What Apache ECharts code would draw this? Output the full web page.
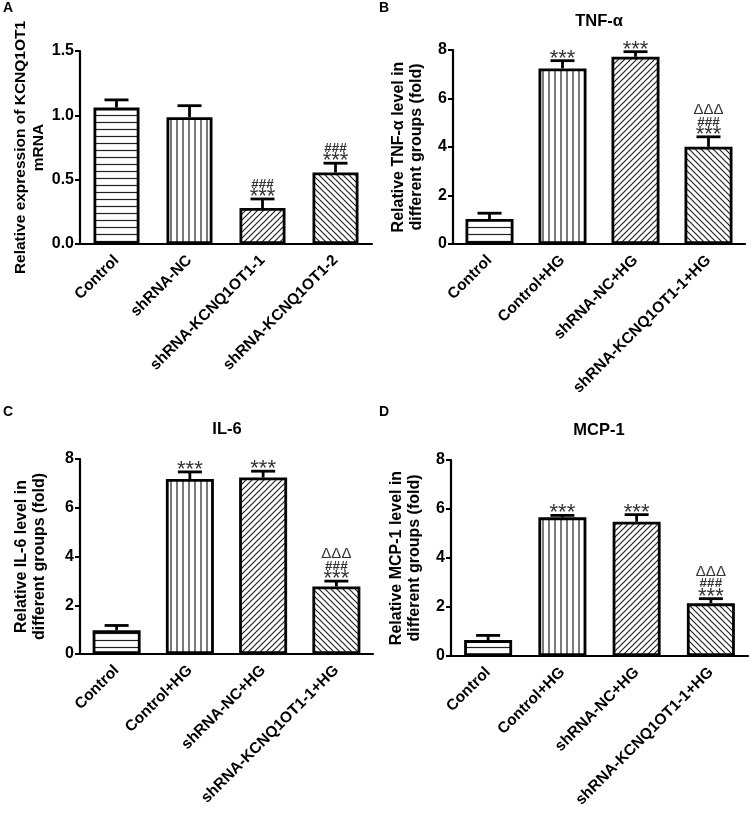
<!DOCTYPE html>
<html><head><meta charset="utf-8">
<script src="https://cdn.jsdelivr.net/npm/echarts@6/dist/echarts.min.js"></script>
<style>html,body{margin:0;padding:0;background:#fff}#c{width:753px;height:822px}</style>
</head><body><div id="c"></div>
<script>
// ---- data ----
const catsA = ['Control', 'shRNA-NC', 'shRNA-KCNQ1OT1-1', 'shRNA-KCNQ1OT1-2'];
const catsHG = ['Control', 'Control+HG', 'shRNA-NC+HG', 'shRNA-KCNQ1OT1-1+HG'];
const meanA = [1.06, 0.985, 0.28, 0.556];
const sdA = [0.06, 0.09, 0.07, 0.072];
const sigA = ['', '', '###\n***', '###\n***'];
const meanB = [1.03, 7.24, 7.72, 4.01];
const sdB = [0.24, 0.32, 0.21, 0.41];
const sigB = ['', '***', '***', 'ΔΔΔ\n###\n***'];
const meanC = [0.97, 7.18, 7.24, 2.77];
const sdC = [0.20, 0.29, 0.26, 0.22];
const sigC = ['', '***', '***', 'ΔΔΔ\n###\n***'];
const meanD = [0.65, 5.66, 5.48, 2.15];
const sdD = [0.19, 0.08, 0.29, 0.19];
const sigD = ['', '***', '***', 'ΔΔΔ\n###\n***'];
const titles = ['', 'TNF-α', 'IL-6', 'MCP-1'];
const letters = ['A', 'B', 'C', 'D'];
const yNames = ['Relative expression of KCNQ1OT1\nmRNA', 'Relative TNF-α level in\ndifferent groups (fold)',
  'Relative IL-6 level in\ndifferent groups (fold)', 'Relative MCP-1 level in\ndifferent groups (fold)'];
const yMax = [1.5, 8, 8, 8];
const yStep = [0.5, 2, 2, 2];

// ---- patterns ----
function pat(type) {
  const c = document.createElement('canvas');
  let w = 6, h = 6;
  if (type === 'h') { w = 8; h = 7; }
  if (type === 'v') { w = 6; h = 8; }
  c.width = w; c.height = h;
  const g = c.getContext('2d');
  g.fillStyle = '#fff'; g.fillRect(0, 0, w, h);
  g.strokeStyle = '#222'; g.lineWidth = 1.2;
  g.beginPath();
  if (type === 'h') { g.moveTo(0, 3.5); g.lineTo(w, 3.5); }
  else if (type === 'v') { g.moveTo(3, 0); g.lineTo(3, h); }
  else if (type === 'f') { g.moveTo(-1, 7); g.lineTo(7, -1); g.moveTo(-2, 2); g.lineTo(2, -2); g.moveTo(4, 8); g.lineTo(8, 4); }
  else { g.moveTo(-1, -1); g.lineTo(7, 7); g.moveTo(-2, 4); g.lineTo(2, 8); g.moveTo(4, -2); g.lineTo(8, 2); }
  g.stroke();
  return { image: c, repeat: 'repeat' };
}
const pats = [pat('h'), pat('v'), pat('f'), pat('b')];

const FONT = 'Arial, "Liberation Sans", sans-serif';
const grids = [
  { left: 80, right: 381, top: 51, bottom: 578 },
  { left: 453, right: 8, top: 50, bottom: 578 },
  { left: 80, right: 380, top: 459, bottom: 168 },
  { left: 451, right: 5, top: 460, bottom: 166 }
];
const nameGaps = [30, 27, 31, 27];
const nameSizes = [15.5, 16, 16, 16];
const panels = [
  [catsA, meanA, sdA, sigA], [catsHG, meanB, sdB, sigB], [catsHG, meanC, sdC, sigC], [catsHG, meanD, sdD, sigD]
];

// style for each kind of significance mark line, and its offset above the error cap
const sigStyle = {
  '*': { fontSize: 22, fontWeight: 'normal', off: 2 },
  '#': { fontSize: 13.5, fontWeight: 'bold', off: 15 },
  'Δ': { fontSize: 15, fontWeight: 'normal', off: 27 }
};
function errRender(sigs) {
  return function (params, api) {
    const i = api.value(0), m = api.value(1), e = api.value(2);
    const p0 = api.coord([i, m]), p1 = api.coord([i, m + e]);
    const kids = [
      { type: 'line', shape: { x1: p0[0], y1: p0[1], x2: p1[0], y2: p1[1] }, style: { stroke: '#000', lineWidth: 2.8 } },
      { type: 'line', shape: { x1: p1[0] - 12, y1: p1[1], x2: p1[0] + 12, y2: p1[1] }, style: { stroke: '#000', lineWidth: 2.8 } }
    ];
    const s = sigs[params.dataIndex];
    if (s) {
      s.split('\n').forEach(line => {
        const st = sigStyle[line[0]];
        kids.push({ type: 'text', x: p1[0], y: p1[1] - st.off, style: {
          text: line, align: 'center', verticalAlign: 'middle', fill: '#333', fontFamily: FONT,
          fontSize: st.fontSize, fontWeight: st.fontWeight } });
      });
    }
    return { type: 'group', children: kids };
  };
}

const option = { animation: false, backgroundColor: '#fff', grid: grids, xAxis: [], yAxis: [], series: [], graphic: [] };
panels.forEach((p, k) => {
  const [cats, mean, sd, sig] = p;
  option.xAxis.push({ type: 'category', gridIndex: k, data: cats,
    axisLine: { lineStyle: { color: '#000', width: 2.2 } },
    axisTick: { alignWithLabel: true, length: 5, lineStyle: { color: '#000', width: 2 } },
    axisLabel: { rotate: 45, interval: 0, margin: 14, fontSize: 15.5, fontWeight: 'bold', color: '#000', fontFamily: FONT } });
  option.yAxis.push({ type: 'value', gridIndex: k, min: 0, max: yMax[k], interval: yStep[k],
    splitLine: { show: false },
    axisLine: { show: true, lineStyle: { color: '#000', width: 2.2 } },
    axisTick: { show: true, length: 5, lineStyle: { color: '#000', width: 2 } },
    axisLabel: { margin: 6, fontSize: 16, fontWeight: 'bold', color: '#000', fontFamily: FONT,
      formatter: v => k === 0 ? v.toFixed(1) : String(v) },
    name: yNames[k], nameLocation: 'middle', nameGap: nameGaps[k],
    nameTextStyle: { fontSize: nameSizes[k], fontWeight: 'bold', color: '#000', fontFamily: FONT, lineHeight: 18 } });
  option.series.push({ type: 'bar', xAxisIndex: k, yAxisIndex: k, barWidth: k === 0 ? 46 : 48,
    data: mean.map((v, i) => ({ value: v, itemStyle: { color: pats[i], borderColor: '#000', borderWidth: 2.8 } })) });
  option.series.push({ type: 'custom', xAxisIndex: k, yAxisIndex: k, z: 5,
    renderItem: errRender(sig), data: mean.map((v, i) => [i, v, sd[i]]) });
});
const letterPos = [[3, 8], [379, 8], [3, 412], [379, 412]];
letters.forEach((l, k) => option.graphic.push({ type: 'text', x: letterPos[k][0], y: letterPos[k][1],
  style: { text: l, fontSize: 14, fontWeight: 'bold', fill: '#000', fontFamily: FONT, verticalAlign: 'middle' } }));
const titlePos = [[0, 0], [599, 21], [227, 429], [599, 430]];
titles.forEach((t, k) => { if (t) option.graphic.push({ type: 'text', x: titlePos[k][0], y: titlePos[k][1],
  style: { text: t, fontSize: 16.5, fontWeight: 'bold', fill: '#000', fontFamily: FONT, align: 'center', verticalAlign: 'middle' } }); });

const chart = echarts.init(document.getElementById('c'), null, { renderer: 'canvas' });
chart.setOption(option);
</script></body></html>
